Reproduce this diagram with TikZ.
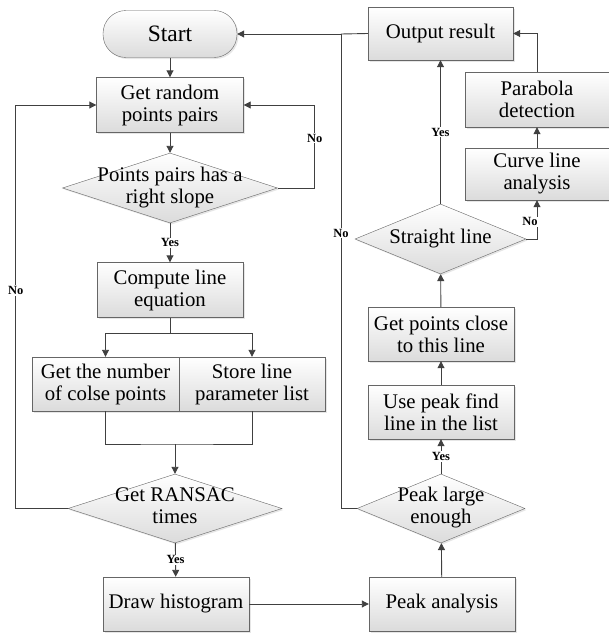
\documentclass[tikz,border=0pt]{standalone}
\usepackage{fontspec}
\setmainfont{LiberationSerif}[Extension=.ttf, UprightFont=*-Regular, BoldFont=*-Bold]
\usetikzlibrary{shapes.geometric,arrows.meta,shadows}
\definecolor{linegray}{HTML}{404040}
\definecolor{edgegray}{HTML}{666666}
\newcommand{\dtext}[1]{\makebox[0pt]{\begin{tabular}{@{}c@{}}#1\end{tabular}}}
\tikzset{
  box/.style={rectangle, draw=edgegray, top color=white, bottom color=black!14,
    minimum width=146pt, minimum height=54pt, align=center, inner sep=0pt,
    font=\fontsize{20.8}{22}\selectfont,
    drop shadow={shadow xshift=1.5pt, shadow yshift=-1.5pt, opacity=0.2}},
  terminal/.style={box, rounded corners=23pt, minimum width=134pt, minimum height=47pt,
    font=\fontsize{23.5}{25}\selectfont},
  decision/.style={box, diamond, aspect=1, minimum height=70pt},
  lbl/.style={font=\fontsize{12.5}{12.5}\selectfont\bfseries, fill=white, inner sep=1pt},
  flow/.style={draw=linegray, line width=0.9pt, >={Triangle[length=7pt,width=7pt]}}
}
\begin{document}
\begin{tikzpicture}[x=1pt, y=-1pt]
\useasboundingbox (0,0) rectangle (609,637);
\node[terminal] (start) at (170,34) {Start};
\node[box, minimum width=147pt, minimum height=55pt] (pairs) at (170,105) {Get random\\points pairs};
\node[decision, minimum width=215pt] (slope) at (170,188) {\dtext{Points pairs has a\\right slope}};
\node[box, minimum height=55pt] (compute) at (170,290) {Compute line\\equation};
\node[box, minimum width=147pt] (number) at (105.5,384) {Get the number\\of colse points};
\node[box] (store) at (252,384) {Store line\\parameter list};
\node[decision, minimum width=214pt, minimum height=69pt] (ransac) at (175,508.5) {\dtext{Get RANSAC\\times}};
\node[box] (hist) at (176,604) {Draw histogram};
\node[box] (peak) at (442,604) {Peak analysis};
\node[decision, minimum width=168pt, minimum height=69pt] (large) at (441,508.5) {\dtext{Peak large\\enough}};
\node[box] (usepeak) at (441,412) {Use peak find\\line in the list};
\node[box] (close) at (441,334) {Get points close\\to this line};
\node[decision, minimum width=171pt] (straight) at (440.5,239) {\dtext{Straight line}};
\node[box, minimum width=145pt, minimum height=53pt] (output) at (440.5,33.5) {Output result};
\node[box, minimum width=144pt, minimum height=52pt] (curve) at (537,174) {Curve line\\analysis};
\node[box, minimum width=144pt, minimum height=55pt] (parabola) at (537,99.5) {Parabola\\detection};
\coordinate (split) at (170,333);
\coordinate (merge) at (175,444);
\coordinate (jn) at (341,34);
\begin{scope}[flow]
\draw[->] (start) -- (pairs);
\draw[->] (pairs) -- (slope);
\draw[->] (slope.east) -- ++(37,0) |- node[lbl, pos=0.3] {No} (pairs.east);
\draw[->] (slope) -- node[lbl] {Yes} (compute);
\draw (compute) -- (split);
\draw[->] (split) -| (number.north);
\draw[->] (split) -| (store.north);
\draw (number.south) |- (merge) -| (store.south);
\draw[->] (merge) -- (ransac.north);
\draw[->] (ransac.west) -- ++(-52,0) |- node[lbl, pos=0.27] {No} (pairs.west);
\draw[->] (ransac) -- node[lbl] {Yes} (hist);
\draw[->] (hist) -- (peak);
\draw[->] (peak) -- (large);
\draw[->] (large) -- node[lbl] {Yes} (usepeak);
\draw[->] (usepeak) -- (close);
\draw[->] (close) -- (straight);
\draw[->] (straight) -- node[lbl] {Yes} (output);
\draw[->] (straight.east) -| node[lbl, pos=0.72, left=-2pt] {No} (curve.south);
\draw[->] (curve) -- (parabola);
\draw[->] (parabola.north) |- (output.east);
\draw[->] (large.west) -| node[lbl, pos=0.79] {No} (jn) -- (start.east);
\draw (output.west) -- (jn);
\end{scope}
\end{tikzpicture}
\end{document}
